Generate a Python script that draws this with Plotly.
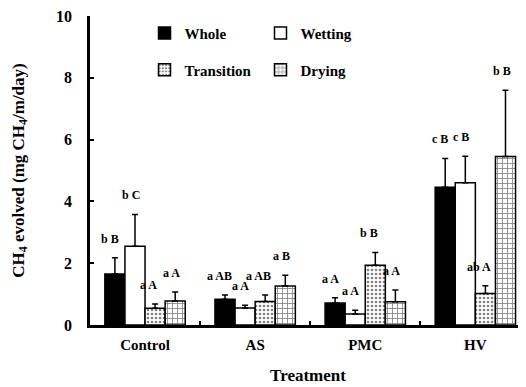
import plotly.graph_objects as go

categories = ["Control", "AS", "PMC", "HV"]
series_names = ["Whole", "Wetting", "Transition", "Drying"]
whole = [1.65, 0.83, 0.71, 4.46]
wetting = [2.55, 0.55, 0.36, 4.60]
transition = [0.54, 0.76, 1.93, 1.02]
drying = [0.78, 1.26, 0.75, 5.45]
whole_err = [0.53, 0.14, 0.17, 0.93]
wetting_err = [1.03, 0.09, 0.12, 0.86]
transition_err = [0.14, 0.21, 0.42, 0.25]
drying_err = [0.29, 0.35, 0.38, 2.15]
letters = [
    ["b B", "a AB", "a A", "c B"],
    ["b C", "a A", "a A", "c B"],
    ["a A", "a AB", "b B", "ab A"],
    ["a A", "a B", "a A", "b B"],
]

values = [whole, wetting, transition, drying]
errs = [whole_err, wetting_err, transition_err, drying_err]
FONT = "Liberation Serif, Times New Roman, serif"

styles = [
    dict(color="black", pattern=None),
    dict(color="white", pattern=None),
    dict(color="white", pattern=dict(shape=".", fgcolor="black", bgcolor="white", size=4, solidity=0.35)),
    dict(color="white", pattern=dict(shape="+", fgcolor="black", bgcolor="white", size=5, solidity=0.3)),
]
legends = ["legend", "legend", "legend2", "legend2"]

fig = go.Figure()
for i, name in enumerate(series_names):
    marker = dict(color=styles[i]["color"], line=dict(color="black", width=1.5))
    if styles[i]["pattern"]:
        marker["pattern"] = styles[i]["pattern"]
    fig.add_trace(go.Bar(
        x=categories, y=values[i], name=name, marker=marker,
        legend=legends[i],
        error_y=dict(type="data", array=errs[i], arrayminus=[0]*4, symmetric=False,
                     color="black", thickness=1.5, width=3),
    ))

offsets = [-0.32, -0.13, 0.03, 0.24]
for i in range(4):
    for j in range(4):
        top = values[i][j] + errs[i][j]
        fig.add_annotation(x=j + offsets[i], y=top, text="<b>%s</b>" % letters[i][j],
                           showarrow=False, yshift=19,
                           font=dict(family=FONT, size=12, color="black"))

LEG_FONT = dict(family=FONT, size=15, color="black", weight="bold")
fig.update_layout(
    width=518, height=379,
    margin=dict(l=82, r=0, t=6, b=62),
    plot_bgcolor="white", paper_bgcolor="white",
    barmode="group", bargap=0.27, bargroupgap=0,
    font=dict(family=FONT, color="black"),
    showlegend=True,
    legend=dict(orientation="h", x=0.125, y=0.944, xanchor="left", yanchor="middle",
                entrywidth=71, entrywidthmode="pixels", bgcolor="rgba(0,0,0,0)",
                font=LEG_FONT, itemwidth=30, tracegroupgap=0),
    legend2=dict(orientation="h", x=0.125, y=0.825, xanchor="left", yanchor="middle",
                 entrywidth=71, entrywidthmode="pixels", bgcolor="rgba(0,0,0,0)",
                 font=LEG_FONT, itemwidth=30, tracegroupgap=0),
    xaxis=dict(
        range=[-0.5, 3.46], showline=True, linecolor="black", linewidth=3,
        ticks="inside", tickson="boundaries", ticklen=4, tickwidth=2, tickcolor="black",
        tickfont=dict(family=FONT, size=15, color="black", weight="bold"),
        ticklabelstandoff=4,
        title=dict(text="<b>Treatment</b>", font=dict(family=FONT, size=17, color="black"), standoff=18),
    ),
    yaxis=dict(
        range=[0, 10], dtick=2, showline=True, linecolor="black", linewidth=2.5,
        ticks="inside", ticklen=4, tickwidth=2, tickcolor="black", showgrid=False, zeroline=False,
        tickfont=dict(family=FONT, size=16, color="black", weight="bold"),
        ticklabelstandoff=12, ticklabeloverflow="allow",
        title=dict(text="<b>CH<sub>4</sub> evolved (mg CH<sub>4</sub>/m/day)</b>",
                   font=dict(family=FONT, size=17, color="black"), standoff=28),
    ),
)

fig.write_html("out.html")
